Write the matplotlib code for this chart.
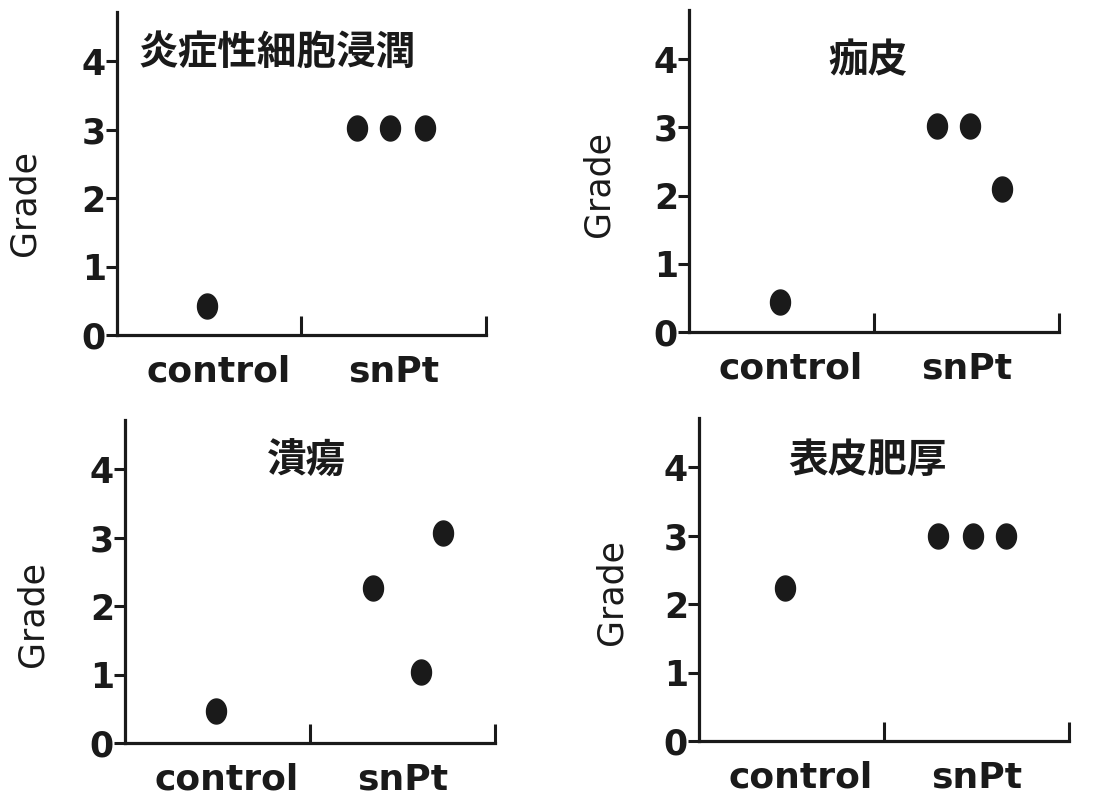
import matplotlib
matplotlib.use('Agg')
import matplotlib.pyplot as plt
import numpy as np

plt.rcParams['font.family'] = ['DejaVu Sans', 'Noto Sans CJK JP']

# --- data
titles = ['炎症性細胞浸潤', '痂皮', '潰瘍', '表皮肥厚']
groups = ['control', 'snPt']
control_grade = [0.42, 0.44, 0.46, 2.24]
control_x = [0.49, 0.49, 0.49, 0.465]
snpt_grade = [[3.02, 3.02, 3.02],
              [3.02, 3.02, 2.09],
              [2.26, 1.04, 3.07],
              [3.00, 3.00, 3.00]]
snpt_x = [[1.30, 1.48, 1.67],
          [1.34, 1.52, 1.69],
          [1.34, 1.60, 1.72],
          [1.29, 1.48, 1.66]]
yticks = [0, 1, 2, 3, 4]

# axes boxes (left, bottom, width, height) and text placement per panel
boxes = [[0.1052, 0.5823, 0.3318, 0.4027],
         [0.6196, 0.5860, 0.3327, 0.4015],
         [0.1124, 0.0736, 0.3327, 0.4027],
         [0.6286, 0.0761, 0.3327, 0.4027]]
title_pos = [(0.87, 4.13), (0.97, 3.98), (0.98, 4.12), (0.91, 4.10)]
ylabel_pos = [(-0.205, 0.41), (-0.20, 0.46), (-0.205, 0.40), (-0.19, 0.46)]

ink = '#1a1a1a'
t = np.linspace(0, 2 * np.pi, 60)
dot = np.column_stack([0.8 * np.cos(t), np.sin(t)])  # slightly tall dots

fig = plt.figure(figsize=(11.12, 8.02), dpi=100)

for i in range(4):
    ax = fig.add_axes(boxes[i])
    xs = [control_x[i]] + snpt_x[i]
    ys = [control_grade[i]] + snpt_grade[i]
    ax.plot(xs, ys, linestyle='none', marker=dot, markersize=18,
            color=ink, clip_on=False)

    ax.set_xlim(0, 2)
    ax.set_ylim(0, 4.72)
    ax.spines['top'].set_visible(False)
    ax.spines['right'].set_visible(False)
    for s in ['left', 'bottom']:
        ax.spines[s].set_linewidth(2.3)
        ax.spines[s].set_color(ink)

    ax.set_yticks(yticks)
    ax.set_yticklabels([str(v) for v in yticks], fontsize=25,
                       fontweight='heavy', color=ink)
    ax.tick_params(axis='y', direction='out', length=8, width=2.2,
                   color=ink, pad=0)

    ax.set_xticks([1, 2])
    ax.tick_params(axis='x', which='major', direction='in', length=14,
                   width=2.2, color=ink, labelbottom=False)
    ax.set_xticks([0.55, 1.5], minor=True)
    ax.set_xticklabels(groups, minor=True, fontsize=26, fontweight='bold',
                       color=ink)
    ax.tick_params(axis='x', which='minor', length=0, pad=14)

    ax.set_ylabel('Grade', fontsize=25, color=ink)
    ax.yaxis.set_label_coords(*ylabel_pos[i])

    ax.text(title_pos[i][0], title_pos[i][1], titles[i], ha='center',
            va='center', fontsize=28.5, fontweight='bold', color=ink,
            family=['Noto Sans CJK JP', 'DejaVu Sans'])

fig.savefig('out.png', dpi=100, facecolor='white')
